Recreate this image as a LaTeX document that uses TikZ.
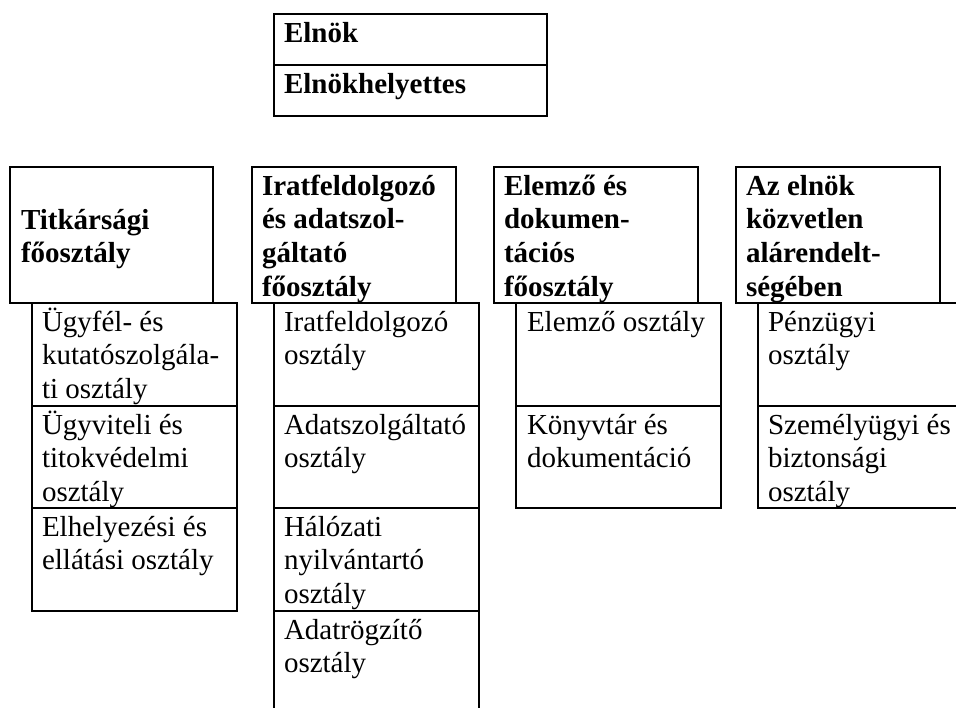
\documentclass[tikz,border=0pt]{standalone}
\usepackage{fontspec}
\setmainfont{Liberation Serif}
\newcommand{\mystrut}{\rule{0pt}{27pt}}
\begin{document}
\begin{tikzpicture}[x=1pt,y=-1pt,
  box/.style={draw, line width=2pt, inner sep=0pt, outer sep=0pt, anchor=north west},
  lbl/.style={anchor=north west, inner sep=0pt, outer sep=0pt, align=left, font=\fontsize{29}{33.7}\selectfont},
  blbl/.style={lbl, font=\fontsize{29}{33.7}\selectfont\bfseries}]
\useasboundingbox (0,0) rectangle (956,707);
\clip (0,0) rectangle (956,707);
% top
\node[box, minimum width=273pt, minimum height=51pt] (elnok) at (274,14) {};
\node[box, minimum width=273pt, minimum height=51pt] (helyettes) at (274,65) {};
\node[blbl] (telnok) at (284,15) {\mystrut Elnök};
\node[blbl] (thelyettes) at (284,66) {\mystrut Elnökhelyettes};
% main boxes
\node[box, minimum width=203pt, minimum height=136pt] (m1) at (10,167) {};
\node[box, minimum width=204pt, minimum height=136pt] (m2) at (252,167) {};
\node[box, minimum width=204pt, minimum height=136pt] (m3) at (494,167) {};
\node[box, minimum width=204pt, minimum height=136pt] (m4) at (736,167) {};
\node[blbl] (tm1) at (21,202) {\mystrut Titkársági\\főosztály};
\node[blbl] (tm2) at (262,168) {\mystrut Iratfeldolgozó\\és adatszol-\\gáltató\\főosztály};
\node[blbl] (tm3) at (504,168) {\mystrut Elemző és\\dokumen-\\tációs\\főosztály};
\node[blbl] (tm4) at (746,168) {\mystrut Az elnök\\közvetlen\\alárendelt-\\ségében};
% column 1
\node[box, minimum width=205pt, minimum height=103pt] (s11) at (32,303) {};
\node[box, minimum width=205pt, minimum height=102pt] (s12) at (32,406) {};
\node[box, minimum width=205pt, minimum height=103pt] (s13) at (32,508) {};
\node[lbl] (ts11) at (42,304) {\mystrut Ügyfél- és\\kutatószolgála-\\ti osztály};
\node[lbl] (ts12) at (42,407) {\mystrut Ügyviteli és\\titokvédelmi\\osztály};
\node[lbl] (ts13) at (42,509) {\mystrut Elhelyezési és\\ellátási osztály};
% column 2
\node[box, minimum width=205pt, minimum height=103pt] (s21) at (274,303) {};
\node[box, minimum width=205pt, minimum height=102pt] (s22) at (274,406) {};
\node[box, minimum width=205pt, minimum height=103pt] (s23) at (274,508) {};
\node[box, minimum width=205pt, minimum height=120pt] (s24) at (274,611) {};
\node[lbl] (ts21) at (284,304) {\mystrut Iratfeldolgozó\\osztály};
\node[lbl] (ts22) at (284,407) {\mystrut Adatszolgáltató\\osztály};
\node[lbl] (ts23) at (284,509) {\mystrut Hálózati\\nyilvántartó\\osztály};
\node[lbl] (ts24) at (284,612) {\mystrut Adatrögzítő\\osztály};
% column 3
\node[box, minimum width=205pt, minimum height=103pt] (s31) at (516,303) {};
\node[box, minimum width=205pt, minimum height=102pt] (s32) at (516,406) {};
\node[lbl] (ts31) at (527,304) {\mystrut Elemző osztály};
\node[lbl] (ts32) at (527,407) {\mystrut Könyvtár és\\dokumentáció};
% column 4
\node[box, minimum width=220pt, minimum height=103pt] (s41) at (758,303) {};
\node[box, minimum width=220pt, minimum height=102pt] (s42) at (758,406) {};
\node[lbl] (ts41) at (768,304) {\mystrut Pénzügyi\\osztály};
\node[lbl] (ts42) at (768,407) {\mystrut Személyügyi és\\biztonsági\\osztály};
\end{tikzpicture}
\end{document}
